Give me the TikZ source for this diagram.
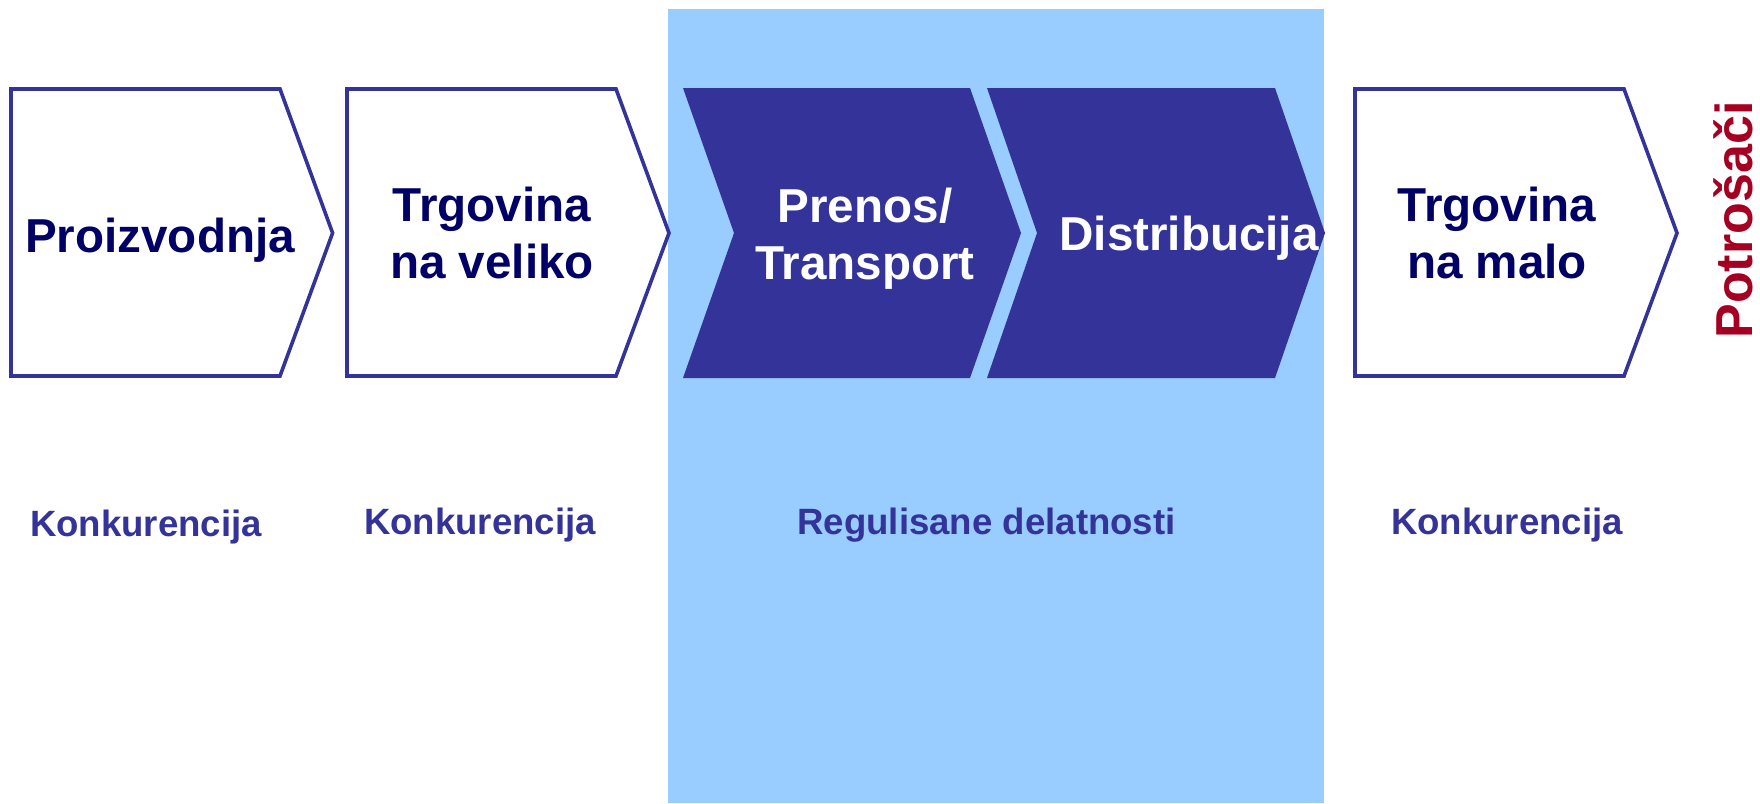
\documentclass[tikz,border=0pt]{standalone}
\usepackage{fontspec}
\setmainfont{Liberation Sans}

\definecolor{chain}{HTML}{333399}
\definecolor{navy}{HTML}{000066}
\definecolor{regblue}{HTML}{99CCFF}
\definecolor{consumer}{HTML}{A50021}

\begin{document}
\begin{tikzpicture}[%
        x = 0.5pt,
        y = -0.5pt,
        line width = 1.8pt,
        stage/.style = {draw = chain, fill = white},
        chevron/.style = {fill = chain},
        stagetext/.style = {
            font = \fontsize{23.8}{28.5}\selectfont\bfseries,
            align = center,
            inner sep = 0pt,
        },
        market/.style = {
            font = \fontsize{18.3}{22}\selectfont\bfseries,
            text = chain,
            anchor = base,
            inner sep = 0pt,
        },
    ]

        \useasboundingbox (0, 0) rectangle (1760, 803);

        % Regulated part of the chain.
        \fill[regblue] (668, 9) rectangle (1324, 803);

        % Open market stages.
        \draw[stage] (11, 89) -- (280, 89) -- (332.6, 233) -- (280, 376) -- (11, 376) -- cycle;
        \draw[stage] (347, 89) -- (616, 89) -- (669, 233) -- (616, 376) -- (347, 376) -- cycle;
        \draw[stage] (1355, 89) -- (1624, 89) -- (1677, 233) -- (1624, 376) -- (1355, 376) -- cycle;

        % Regulated stages.
        \fill[chevron] (683, 88) -- (970, 88) -- (1021, 233) -- (970, 378) -- (683, 378) -- (734, 233) -- cycle;
        \fill[chevron] (987, 88) -- (1275, 88) -- (1325, 233) -- (1275, 378) -- (987, 378) -- (1037, 233) -- cycle;

        % Label the stages.
        \node (prod) at (160, 252) [stagetext, anchor = base, text = navy] {Proizvodnja};
        \node (wholesale) at (492, 233) [stagetext, text = navy] {Trgovina\\na veliko};
        \node (transm) at (865, 239) [stagetext, text = white] {Prenos/\\Transport};
        \node (distr) at (1189, 250) [stagetext, anchor = base, text = white] {Distribucija};
        \node (retail) at (1497, 233) [stagetext, text = navy] {Trgovina\\na malo};

        % End of the chain.
        \node (consumers) at (1752, 220) [
            rotate = 90,
            anchor = base,
            inner sep = 0pt,
            text = consumer,
            font = \fontsize{26}{30}\selectfont\bfseries,
        ] {Potrošači};

        % Kind of market below each part.
        \node (comp1) at (146, 536) [market] {Konkurencija};
        \node (comp2) at (480, 534) [market] {Konkurencija};
        \node (reg) at (986.5, 534) [market] {Regulisane delatnosti};
        \node (comp3) at (1507, 534) [market] {Konkurencija};
    \end{tikzpicture}
\end{document}
